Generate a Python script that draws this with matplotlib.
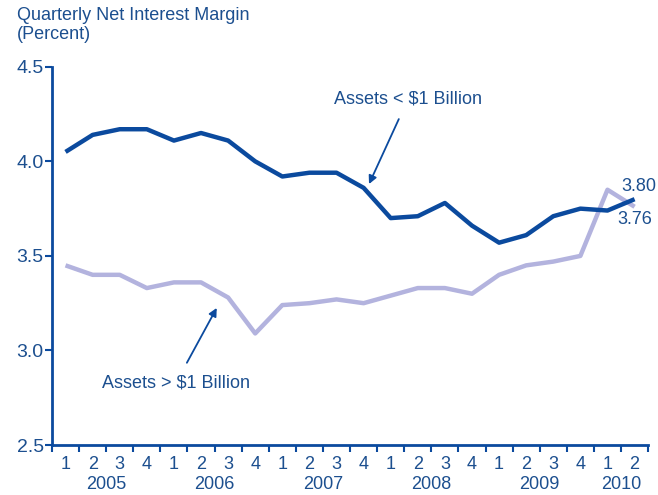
import matplotlib
matplotlib.use("Agg")
import matplotlib.pyplot as plt
import numpy as np

plt.rcParams["font.family"] = ["Liberation Sans Narrow", "Liberation Sans", "DejaVu Sans"]

# ---------- data ----------
quarters = ["1", "2", "3", "4"] * 5 + ["1", "2"]
years = ["2005", "2006", "2007", "2008", "2009", "2010"]
small_banks = [4.05, 4.14, 4.17, 4.17, 4.11, 4.15, 4.11, 4.00,
               3.92, 3.94, 3.94, 3.86, 3.70, 3.71, 3.78, 3.66,
               3.57, 3.61, 3.71, 3.75, 3.74, 3.80]
large_banks = [3.45, 3.40, 3.40, 3.33, 3.36, 3.36, 3.28, 3.09,
               3.24, 3.25, 3.27, 3.25, 3.29, 3.33, 3.33, 3.30,
               3.40, 3.45, 3.47, 3.50, 3.85, 3.76]

DARK = "#0b4a9e"
LIGHT = "#b3b3de"
TEXT = "#1c4f8f"

x = np.arange(len(quarters))

fig = plt.figure(figsize=(6.58, 4.95), dpi=100)
ax = fig.add_axes([0.079, 0.101, 0.906, 0.764])

ax.plot(x, large_banks, color=LIGHT, linewidth=3.2, solid_capstyle="butt")
ax.plot(x, small_banks, color=DARK, linewidth=3.2, solid_capstyle="butt")

ax.set_xlim(-0.5, len(quarters) - 0.5)
ax.set_ylim(2.5, 4.5)
ax.set_yticks([2.5, 3.0, 3.5, 4.0, 4.5])
ax.set_yticklabels(["2.5", "3.0", "3.5", "4.0", "4.5"])

# quarter boundaries as ticks, quarter numbers as labels between them
ax.set_xticks(np.arange(-0.5, len(quarters), 1.0))
ax.set_xticklabels([])
ax.set_xticks(x, minor=True)
ax.set_xticklabels(quarters, minor=True)
ax.tick_params(axis="x", which="major", direction="out", length=5, width=1.5, color=DARK)
ax.tick_params(axis="x", which="minor", length=0, pad=8, labelsize=13, labelcolor=TEXT)
ax.tick_params(axis="y", direction="out", length=5, width=1.5, color=DARK,
               labelsize=14, labelcolor=TEXT, pad=1)

for name in ["top", "right"]:
    ax.spines[name].set_visible(False)
for name in ["left", "bottom"]:
    ax.spines[name].set_color(DARK)
    ax.spines[name].set_linewidth(2)

# year labels centred under each year's quarters
for i, yr in enumerate(years):
    n = 4 if i < len(years) - 1 else 2
    ax.text(i * 4 + (n - 1) / 2, -0.082, yr, transform=ax.get_xaxis_transform(),
            ha="center", va="top", fontsize=13, color=TEXT)

# title
fig.text(0.026, 0.985, "Quarterly Net Interest Margin\n(Percent)", ha="left", va="top",
         fontsize=13, color=TEXT, linespacing=1.1)

# annotations
ax.annotate("Assets < $1 Billion", xy=(11.2, 3.88), xytext=(12.64, 4.33),
            ha="center", va="center", fontsize=13, color=TEXT,
            arrowprops=dict(arrowstyle="-|>", color=DARK, lw=1.3, shrinkA=7, shrinkB=0,
                            mutation_scale=12))
ax.annotate("Assets > $1 Billion", xy=(5.58, 3.225), xytext=(4.08, 2.83),
            ha="center", va="center", fontsize=13, color=TEXT,
            arrowprops=dict(arrowstyle="-|>", color=DARK, lw=1.3, shrinkA=7, shrinkB=0,
                            mutation_scale=12))

ax.text(21.16, 3.868, "3.80", ha="center", va="center", fontsize=13, color=TEXT)
ax.text(20.99, 3.69, "3.76", ha="center", va="center", fontsize=13, color=TEXT)

fig.savefig("out.png", dpi=100)
plt.close(fig)
